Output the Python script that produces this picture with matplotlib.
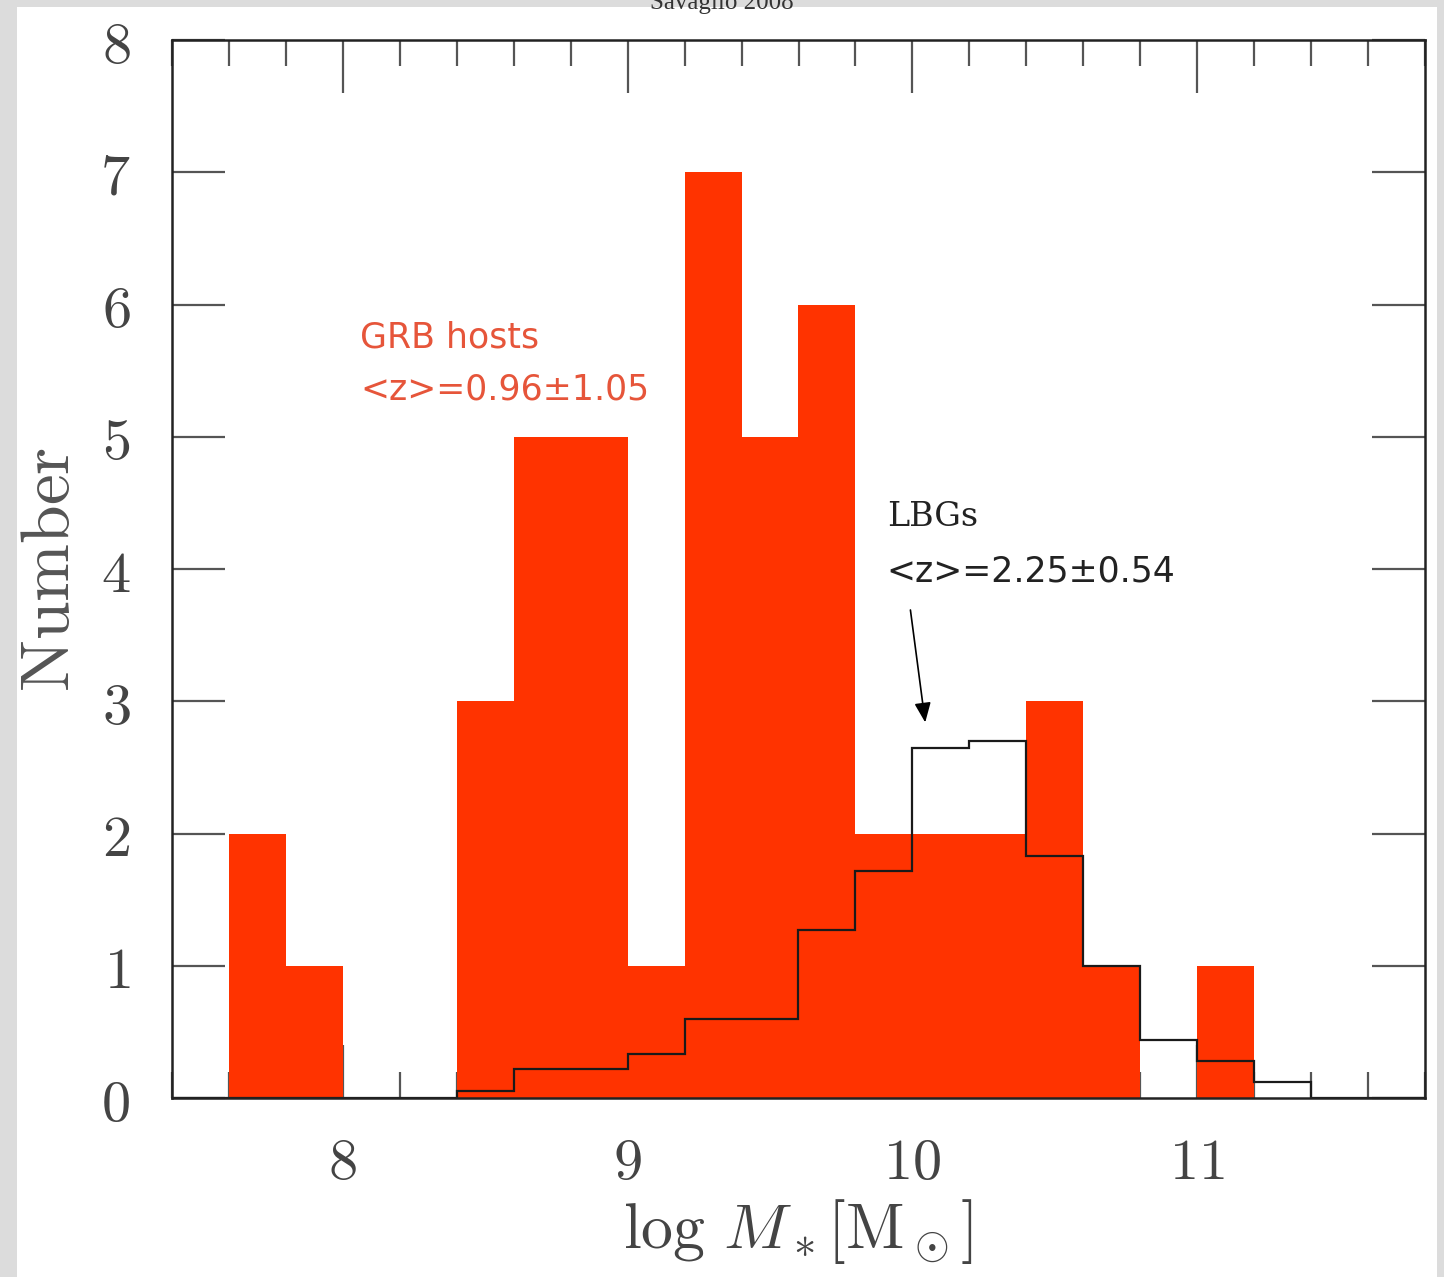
import matplotlib
matplotlib.use("Agg")
import matplotlib.pyplot as plt
from matplotlib.patches import Rectangle
from matplotlib.ticker import MultipleLocator, FuncFormatter
import numpy as np

plt.rcParams['mathtext.fontset'] = 'cm'

# ---- data ----
bin_edges = [7.4, 7.6, 7.8, 8.0, 8.2, 8.4, 8.6, 8.8, 9.0, 9.2, 9.4, 9.6, 9.8,
             10.0, 10.2, 10.4, 10.6, 10.8, 11.0, 11.2, 11.4, 11.6, 11.8]
grb_counts = [0, 2, 1, 0, 0, 3, 5, 5, 1, 7, 5, 6, 2, 2, 2, 3, 1, 0, 1, 0, 0, 0]
lbg_counts = [0, 0, 0, 0, 0, 0.05, 0.22, 0.22, 0.33, 0.6, 0.6, 1.27, 1.72,
              2.65, 2.7, 1.83, 1.0, 0.44, 0.28, 0.12, 0, 0]
x_ticks = [8, 9, 10, 11]
y_ticks = [0, 1, 2, 3, 4, 5, 6, 7, 8]

W, H = 1444, 1277
fig = plt.figure(figsize=(W / 100, H / 100), dpi=100)
fig.patch.set_facecolor('#dcdcdc')
fig.add_artist(Rectangle((17 / W, 0), (1437 - 17) / W, 1 - 7 / H,
                         transform=fig.transFigure, facecolor='white',
                         edgecolor='none', zorder=0))

ax = fig.add_axes([172 / W, 1 - 1098 / H, (1425 - 172) / W, (1098 - 40) / H])
ax.set_zorder(1)

lefts = bin_edges[:-1]
widths = np.diff(bin_edges)
ax.bar(lefts, grb_counts, width=widths, align='edge', color='#ff3300',
       edgecolor='none', zorder=2)
ax.stairs(lbg_counts, bin_edges, color='#1a1a1a', linewidth=1.6, zorder=3)

ax.set_xlim(7.4, 11.8)
ax.set_ylim(0, 8)
ax.set_xticks(x_ticks)
ax.set_yticks(y_ticks)
ax.xaxis.set_minor_locator(MultipleLocator(0.2))
fmt = FuncFormatter(lambda v, p: r'$%g$' % v)
ax.xaxis.set_major_formatter(fmt)
ax.yaxis.set_major_formatter(fmt)

ax.tick_params(axis='both', which='both', direction='in', top=True,
               right=True, color='#555555', width=1.6, zorder=4)
ax.tick_params(axis='both', which='major', length=38, labelsize=42)
ax.tick_params(axis='x', which='major', pad=26)
ax.tick_params(axis='y', which='major', pad=30)
ax.tick_params(axis='x', which='minor', length=19)
for lab in ax.get_xticklabels() + ax.get_yticklabels():
    lab.set_color('#444444')
for s in ax.spines.values():
    s.set_linewidth(1.8)
    s.set_color('#222222')
    s.set_zorder(5)

ax.set_ylabel(r'$\mathrm{Number}$', fontsize=50, color='#555555', labelpad=12)
ax.set_xlabel(r'$\log\,M_*[\mathrm{M}_\odot]$', fontsize=46, color='#444444',
              labelpad=4)

ax.text(8.06, 5.75, 'GRB hosts', color='#e6553a', fontsize=25,
        ha='left', va='center', family='DejaVu Sans')
ax.text(8.06, 5.36, '<z>=0.96\u00b11.05', color='#e6553a', fontsize=25,
        ha='left', va='center', family='DejaVu Sans')
ax.text(9.91, 4.39, 'LBGs', color='#222222', fontsize=24,
        ha='left', va='center', family='DejaVu Serif')
ax.text(9.91, 3.98, '<z>=2.25\u00b10.54', color='#222222', fontsize=25,
        ha='left', va='center', family='DejaVu Sans')
ax.annotate('', xy=(10.045, 2.84), xytext=(9.993, 3.69),
            arrowprops=dict(arrowstyle='-|>,head_length=1.2,head_width=0.5',
                            color='black', lw=1.2, shrinkA=0, shrinkB=0))

fig.text(0.5, 1 - 14 / H, 'Savaglio 2008', ha='center', va='bottom',
         fontsize=18, family='Liberation Serif', color='#333333')

fig.savefig('out.png', dpi=100, facecolor=fig.get_facecolor())
